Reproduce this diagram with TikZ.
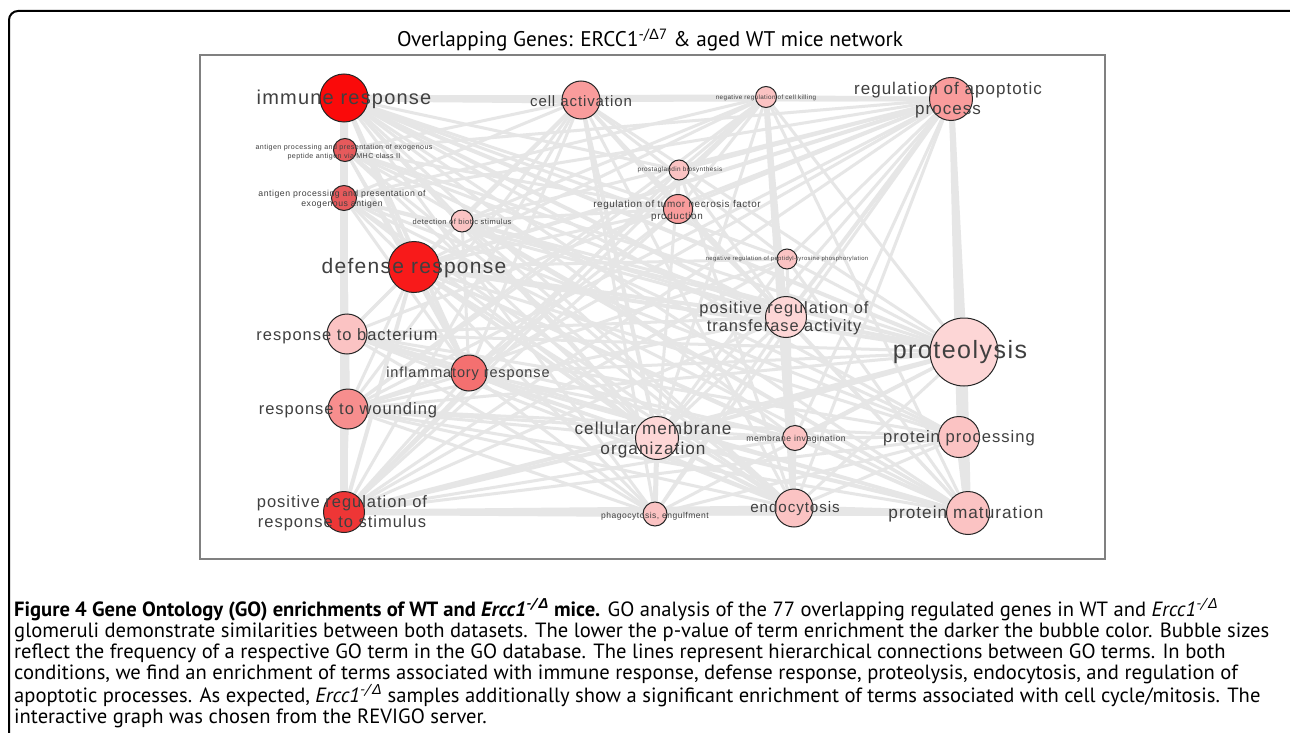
\documentclass[tikz,border=0pt]{standalone}
\usepackage{fontspec}
\setmainfont{PT Sans}
\newfontfamily\golabel[LetterSpace=6]{Liberation Sans}
\newfontfamily\grk{Liberation Sans}
\newcommand{\gof}[2]{\golabel\fontsize{#1}{#2}\selectfont}

\definecolor{edgegray}{HTML}{E6E6E6}
\definecolor{pvA}{HTML}{FA0A0A}
\definecolor{pvB}{HTML}{F81A1A}
\definecolor{pvC}{HTML}{EE3636}
\definecolor{pvD}{HTML}{E65A5C}
\definecolor{pvE}{HTML}{F47070}
\definecolor{pvF}{HTML}{F78E8E}
\definecolor{pvG}{HTML}{F99C9C}
\definecolor{pvH}{HTML}{FBC3C3}
\definecolor{pvI}{HTML}{FDD6D6}

\pgfdeclarelayer{edges}
\pgfsetlayers{edges,main}

\tikzset{
  term/.style={circle, draw=black!85, line width=1pt, inner sep=0pt, fill=#1},
  lbl/.style={text=black!75, align=center, inner sep=0pt},
  link/.style={draw=edgegray, line width=#1}
}

\begin{document}
\begin{tikzpicture}[x=1pt,y=-1pt]

\useasboundingbox (0,0) rectangle (1290,733);

\draw[line width=2pt, rounded corners=9pt] (9,745) -- (9,11) -- (1302,11) -- (1302,745);

\node[font=\fontsize{21.2}{25}\selectfont] (title) at (650,40) {Overlapping Genes: ERCC1\textsuperscript{-/{\grk Δ}7} \& aged WT mice network};

% bubbles
\node[term=pvA, minimum size=48pt] (ir) at (344,98) {};
\node[term=pvG, minimum size=38pt] (ca) at (581,100) {};
\node[term=pvH, minimum size=21pt] (nrck) at (766,97) {};
\node[term=pvG, minimum size=43pt] (rap) at (951,99) {};
\node[term=pvD, minimum size=23pt] (apmhc) at (345,150) {};
\node[term=pvH, minimum size=20pt] (pgb) at (679,170) {};
\node[term=pvD, minimum size=25pt] (apea) at (344,198) {};
\node[term=pvG, minimum size=29pt] (rtnf) at (678,209) {};
\node[term=pvH, minimum size=22pt] (dbs) at (462,221) {};
\node[term=pvB, minimum size=51pt] (dr) at (414,267) {};
\node[term=pvH, minimum size=20pt] (nrpt) at (787,259) {};
\node[term=pvI, minimum size=41pt] (prta) at (786,317) {};
\node[term=pvI, minimum size=68pt] (prot) at (964,352) {};
\node[term=pvH, minimum size=40pt] (rtb) at (347,334) {};
\node[term=pvE, minimum size=36pt] (infl) at (469,373) {};
\node[term=pvF, minimum size=40pt] (rtw) at (348,409) {};
\node[term=pvI, minimum size=43pt] (cmo) at (657,438) {};
\node[term=pvH, minimum size=25pt] (mi) at (795,438) {};
\node[term=pvH, minimum size=41pt] (pp) at (959,437) {};
\node[term=pvC, minimum size=41pt] (prs) at (344,512) {};
\node[term=pvH, minimum size=24pt] (phag) at (655,514) {};
\node[term=pvH, minimum size=38pt] (endo) at (794,508) {};
\node[term=pvH, minimum size=43pt] (pm) at (968,513) {};

% labels
\node[lbl, font=\gof{20}{24}] (ir-t) at (344,99) {immune response};
\node[lbl, font=\gof{15}{18}] (ca-t) at (581,101) {cell activation};
\node[lbl, font=\gof{6.3}{8}] (nrck-t) at (766,98) {negative regulation of cell killing};
\node[lbl, font=\gof{17}{20}] (rap-t) at (948,100) {regulation of apoptotic\\process};
\node[lbl, font=\gof{7.1}{9.5}] (apmhc-t) at (344,152) {antigen processing and presentation of exogenous\\peptide antigen via MHC class II};
\node[lbl, font=\gof{6.4}{8}] (pgb-t) at (680,170) {prostaglandin biosynthesis};
\node[lbl, font=\gof{8.7}{10.5}] (apea-t) at (342,199) {antigen processing and presentation of\\exogenous antigen};
\node[lbl, font=\gof{9.9}{11.5}] (rtnf-t) at (677,211) {regulation of tumor necrosis factor\\production};
\node[lbl, font=\gof{7.5}{9}] (dbs-t) at (462,222) {detection of biotic stimulus};
\node[lbl, font=\gof{21}{25}] (dr-t) at (414,268) {defense response};
\node[lbl, font=\gof{5.9}{7}] (nrpt-t) at (787,259) {negative regulation of peptidyl-tyrosine phosphorylation};
\node[lbl, font=\gof{16.4}{18}] (prta-t) at (784,318) {positive regulation of\\transferase activity};
\node[lbl, font=\gof{25}{30}] (prot-t) at (960,352) {proteolysis};
\node[lbl, font=\gof{16.5}{20}] (rtb-t) at (347,336) {response to bacterium};
\node[lbl, font=\gof{14.5}{17}] (infl-t) at (468,374) {inflammatory response};
\node[lbl, font=\gof{16.5}{20}] (rtw-t) at (348,410) {response to wounding};
\node[lbl, font=\gof{17.2}{20}] (cmo-t) at (653,440) {cellular membrane\\organization};
\node[lbl, font=\gof{8.6}{10}] (mi-t) at (796,439) {membrane invagination};
\node[lbl, font=\gof{16.6}{20}] (pp-t) at (959,438) {protein processing};
\node[lbl, font=\gof{16.5}{20}] (prs-t) at (342,513) {positive regulation of\\response to stimulus};
\node[lbl, font=\gof{8.5}{10}] (phag-t) at (655,516) {phagocytosis, engulfment};
\node[lbl, font=\gof{15.2}{18}] (endo-t) at (795,509) {endocytosis};
\node[lbl, font=\gof{17.2}{20}] (pm-t) at (966,514) {protein maturation};

% network
\begin{pgfonlayer}{edges}
\draw[draw=black!50, line width=1.5pt, fill=white] (200,55) rectangle (1105,559);
\foreach \a/\b/\w in {ir/ca/7, ir/nrck/5, ir/rap/5, ir/apmhc/7, ir/prs/8, ir/dr/4, ir/dbs/3,
    ir/rtnf/3, ir/pgb/3, ir/prta/4, ir/prot/4, ir/cmo/3, ir/infl/4, ir/endo/3, ir/pm/3,
    ir/pp/3, ir/rtw/3, ir/rtb/3, ir/mi/3, ir/nrpt/3, ir/phag/3,
    dr/ca/4, dr/nrck/3, dr/rap/4, dr/rtnf/3, dr/prta/4, dr/prot/4, dr/pp/3, dr/pm/3,
    dr/endo/3, dr/cmo/4, dr/mi/3, dr/phag/3, dr/prs/4, dr/rtw/3, dr/rtb/3, dr/infl/4,
    dr/apea/3, dr/apmhc/3, dr/nrpt/3, dr/dbs/3,
    rap/ca/4, rap/nrck/4, rap/rtnf/3, rap/pgb/3, rap/nrpt/3, rap/prta/4, rap/prot/6,
    rap/pp/4, rap/pm/4, rap/endo/3, rap/cmo/3, rap/mi/3, rap/infl/3, rap/rtb/3,
    rap/rtw/3, rap/prs/3, rap/apea/3, rap/apmhc/3, rap/dbs/3, rap/phag/3,
    nrck/ca/3, nrck/rtnf/3, nrck/pgb/3, nrck/prta/4, nrck/endo/6, nrck/cmo/3,
    nrck/prs/3, nrck/pm/3, nrck/prot/3, nrck/rtw/3, nrck/infl/3, nrck/mi/3,
    ca/rtnf/3, ca/prta/3, ca/cmo/4, ca/infl/3, ca/rtw/3, ca/prs/3, ca/endo/3,
    ca/prot/3, ca/pm/3, ca/rtb/3, ca/phag/3,
    prs/phag/6, prs/endo/5, prs/pm/6, prs/cmo/4, prs/prta/3, prs/prot/4, prs/infl/3,
    prs/rtw/3, prs/rtb/3, prs/pp/3, prs/mi/3, prs/rtnf/3,
    prot/pp/7, prot/pm/6, prot/cmo/4, prot/endo/3, prot/rtb/3, prot/rtw/3,
    prot/infl/3, prot/prta/4, prot/mi/3, prot/nrpt/3,
    pm/pp/7, pm/endo/5, pm/cmo/4, pm/mi/3, pm/infl/3, pm/rtw/3, pm/rtb/3, pm/prta/3, pm/phag/3,
    cmo/phag/5, cmo/mi/3, cmo/endo/4, cmo/pp/3, cmo/prta/3, cmo/infl/3, cmo/rtw/3, cmo/rtb/3,
    endo/phag/4, endo/mi/3, endo/pp/3, endo/prta/3, endo/infl/3,
    rtnf/pgb/3, rtnf/prta/3, rtnf/infl/3, infl/rtw/3, infl/rtb/3, rtb/rtw/4, rtw/pp/3,
    apmhc/prta/3, apmhc/prot/3, apmhc/pm/3, apmhc/endo/3, apmhc/cmo/3, apmhc/pp/3,
    apmhc/ca/3, apmhc/rtnf/3, apmhc/infl/3,
    apea/prta/3, apea/prot/3, apea/pm/3, apea/endo/3, apea/cmo/3, apea/pp/3,
    apea/ca/3, apea/nrck/3, apea/infl/3,
    dbs/prta/3, dbs/prot/3, dbs/pm/3, dbs/endo/3, dbs/cmo/3, dbs/ca/3, dbs/nrck/3,
    dbs/rtnf/3, dbs/infl/3,
    pgb/prta/3, pgb/cmo/3, pgb/endo/3, pgb/prs/3, pgb/rtw/3,
    nrpt/cmo/3, nrpt/endo/3, nrpt/pm/3, nrpt/prs/3, nrpt/ca/3, nrpt/rtw/3,
    mi/rtw/3, mi/rtb/3, mi/infl/3, mi/pp/3,
    phag/rtw/3, phag/rtb/3, phag/infl/3, phag/prta/3, phag/pp/3, phag/prot/3,
    rtb/prta/3, rtb/endo/3, rtb/pp/3, rtw/endo/3, rtw/prta/3}
  \draw[link=\w pt] (\a) -- (\b);
\end{pgfonlayer}

\node[anchor=north west, align=left, inner sep=0pt, font=\fontsize{20.6}{21}\selectfont] (caption) at (14,598)
  {\textbf{Figure 4 Gene Ontology (GO) enrichments of WT and \textit{Ercc1}\textsuperscript{\textit{-/}{\grk\itshape Δ}} mice.} GO analysis of the 77 overlapping regulated genes in WT and \textit{Ercc1}\textsuperscript{\textit{-/}{\grk\itshape Δ}}\\
   glomeruli demonstrate similarities between both datasets. The lower the p-value of term enrichment the darker the bubble color. Bubble sizes\\
   reflect the frequency of a respective GO term in the GO database. The lines represent hierarchical connections between GO terms. In both\\
   conditions, we find an enrichment of terms associated with immune response, defense response, proteolysis, endocytosis, and regulation of\\
   apoptotic processes. As expected, \textit{Ercc1}\textsuperscript{\textit{-/}{\grk\itshape Δ}} samples additionally show a significant enrichment of terms associated with cell cycle/mitosis. The\\
   interactive graph was chosen from the REVIGO server.};

\end{tikzpicture}
\end{document}
